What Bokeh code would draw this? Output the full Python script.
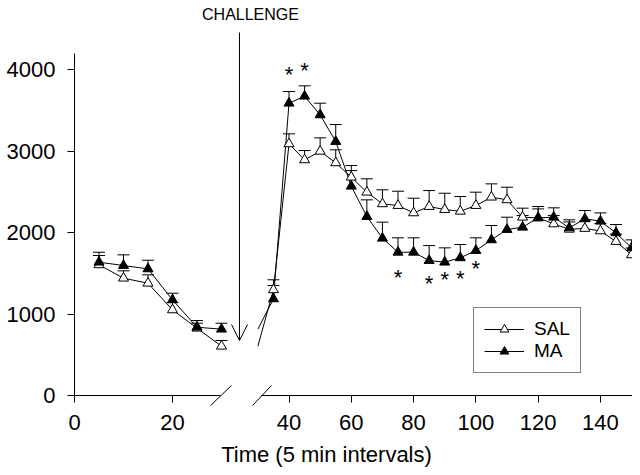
from bokeh.plotting import figure
from bokeh.layouts import column, row
from bokeh.models import Range1d, Arrow, OpenHead, Label, Legend, LegendItem, FixedTicker
from bokeh.core.properties import value
from bokeh.embed import file_html
from bokeh.resources import INLINE

# ---------------- data ----------------
time = [5, 10, 15, 20, 25, 30, 35, 40, 45, 50, 55, 60, 65, 70, 75, 80, 85, 90, 95, 100,
        105, 110, 115, 120, 125, 130, 135, 140, 145, 150]
sal_mean = [1604, 1440, 1378, 1051, 826, 605, 1297, 3088, 2892, 2997, 2855, 2679, 2495, 2352, 2331,
            2241, 2319, 2282, 2261, 2331, 2434, 2401, 2188, 2180, 2106, 2040, 2050, 2020, 1890, 1726]
sal_sem = [114, 90, 103, 90, 61, 70, 123, 123, 114, 165, 160, 143, 164, 172, 176,
           180, 196, 200, 181, 164, 163, 155, 111, 110, 104, 90, 90, 90, 90, 84]
ma_mean = [1636, 1595, 1554, 1174, 838, 814, 1186, 3587, 3673, 3444, 3117, 2568, 2196, 1930, 1758,
           1758, 1656, 1636, 1690, 1779, 1910, 2037, 2065, 2180, 2188, 2057, 2168, 2139, 1996, 1812]
ma_sem = [122, 131, 106, 81, 82, 73, 164, 143, 127, 143, 208, 192, 205, 197, 177,
          177, 184, 176, 163, 156, 176, 151, 144, 139, 115, 99, 102, 102, 102, 98]
star_time = [40, 45, 75, 85, 90, 95, 100]
star_level = [3996, 4049, 1513, 1436, 1485, 1497, 1616]
left_ticks = [0, 20]
right_ticks = [40, 60, 80, 100, 120, 140]
y_ticks = [0, 1000, 2000, 3000, 4000]
break_time = 30  # last time before the axis break

FONT = "Liberation Sans"

# ---------------- helpers ----------------
def sub(arr, idx):
    return [arr[i] for i in idx]

left_idx = [i for i, t in enumerate(time) if t <= break_time]
right_line_idx = [i for i, t in enumerate(time) if t >= break_time]
right_mark_idx = [i for i, t in enumerate(time) if t > break_time]

# frames span the whole row; axes are fixed at x = 0 / y = 0 inside them
Y_RANGE = (-552, 4479)
SERIES = (("SAL", sal_mean, sal_sem, "white"), ("MA", ma_mean, ma_sem, "black"))


def style_axes(p):
    for ax in p.axis:
        ax.axis_line_color = "black"
        ax.axis_line_width = 1
        ax.major_tick_line_color = "black"
        ax.major_tick_out = 7
        ax.major_tick_in = 0
        ax.minor_tick_line_color = None
        ax.major_label_text_font = FONT
        ax.major_label_text_font_size = "22px"
        ax.major_label_text_color = "black"


def draw_series(p, line_idx, mark_idx):
    rs = {}
    for name, mean, sem, fill in SERIES:
        rs[name + "_line"] = p.line(sub(time, line_idx), sub(mean, line_idx),
                                    line_color="black", line_width=1)
    for name, mean, sem, fill in SERIES:
        tx = sub(time, mark_idx)
        lo = sub(mean, mark_idx)
        hi = [m + s for m, s in zip(lo, sub(sem, mark_idx))]
        p.segment(x0=tx, y0=lo, x1=tx, y1=hi, line_color="black", line_width=1)
        p.scatter(x=tx, y=hi, marker="dash", size=12, line_color="black", line_width=1)
    for name, mean, sem, fill in SERIES:
        rs[name + "_mark"] = p.scatter(x=sub(time, mark_idx), y=sub(mean, mark_idx),
                                       marker="triangle", size=10, fill_color=fill,
                                       line_color="black", line_width=1)
    return rs


def base_fig(width, **kw):
    p = figure(width=width, height=410, y_range=Range1d(*Y_RANGE),
               output_backend="svg", toolbar_location=None, min_border=0, **kw)
    p.outline_line_color = None
    p.grid.visible = False
    p.background_fill_color = "white"
    p.border_fill_color = "white"
    p.xaxis.fixed_location = 0
    return p


def break_mark(p, x0, x1):
    p.add_layout(Arrow(x_start=x0, y_start=-123, x_end=x1, y_end=123,
                       line_color="black", line_width=1, end=None))


# ---------------- left panel ----------------
pL = base_fig(248, x_range=Range1d(-15.10, 35.51))
pL.yaxis.fixed_location = 0
draw_series(pL, left_idx, left_idx)
pL.xaxis.ticker = FixedTicker(ticks=left_ticks)
pL.xaxis.bounds = (0, 29.8)
pL.xaxis.major_label_standoff = 12
pL.yaxis.ticker = FixedTicker(ticks=y_ticks)
pL.yaxis.bounds = (0, 4200)
pL.yaxis.major_label_standoff = 12
style_axes(pL)

# challenge arrow
pL.add_layout(Arrow(x_start=33.67, y_start=4454, x_end=33.67, y_end=675,
                    line_color="black", line_width=1,
                    end=OpenHead(size=16, line_color="black", line_width=1)))
break_mark(pL, 27.76, 32.04)

# ---------------- right panel ----------------
pR = base_fig(384, x_range=Range1d(26.99, 150.3), y_axis_location=None)
rs = draw_series(pR, right_line_idx, right_mark_idx)
pR.xaxis.ticker = FixedTicker(ticks=right_ticks)
pR.xaxis.bounds = (31.1, 150.3)
pR.xaxis.major_label_standoff = 12
style_axes(pR)
break_mark(pR, 28.27, 34.38)

pR.text(x=star_time, y=star_level, text=["*"] * len(star_time),
        text_font=value(FONT), text_font_size="22px", text_color="black",
        text_align="center", text_baseline="middle", y_offset=5)

legend = Legend(items=[LegendItem(label="SAL", renderers=[rs["SAL_line"], rs["SAL_mark"]]),
                       LegendItem(label="MA", renderers=[rs["MA_line"], rs["MA_mark"]])],
                location=(225, 67), padding=10, spacing=0, margin=0,
                glyph_width=40, glyph_height=22, label_height=22, label_standoff=10,
                label_text_font=FONT, label_text_font_size="19px", label_text_color="black",
                border_line_color="black", border_line_width=1,
                background_fill_color="white", background_fill_alpha=1)
pR.add_layout(legend)

# ---------------- text strips ----------------
def strip(h):
    s = figure(width=632, height=h, x_range=Range1d(0, 632), y_range=Range1d(0, h),
               output_backend="svg", toolbar_location=None,
               x_axis_location=None, y_axis_location=None, min_border=0)
    s.outline_line_color = None
    s.grid.visible = False
    s.border_fill_color = "white"
    return s

top = strip(30)
top.add_layout(Label(x=250, y=16.5, text="CHALLENGE", text_font=FONT, text_font_size="16px",
                     text_color="black", text_align="center", text_baseline="middle"))
bottom = strip(27)
bottom.add_layout(Label(x=326, y=13, text="Time (5 min intervals)", text_font=FONT,
                        text_font_size="22px", text_color="black", text_align="center",
                        text_baseline="middle"))

layout = column(top, row(pL, pR, spacing=0), bottom, spacing=0)
open("out.html", "w").write(file_html(layout, INLINE))
